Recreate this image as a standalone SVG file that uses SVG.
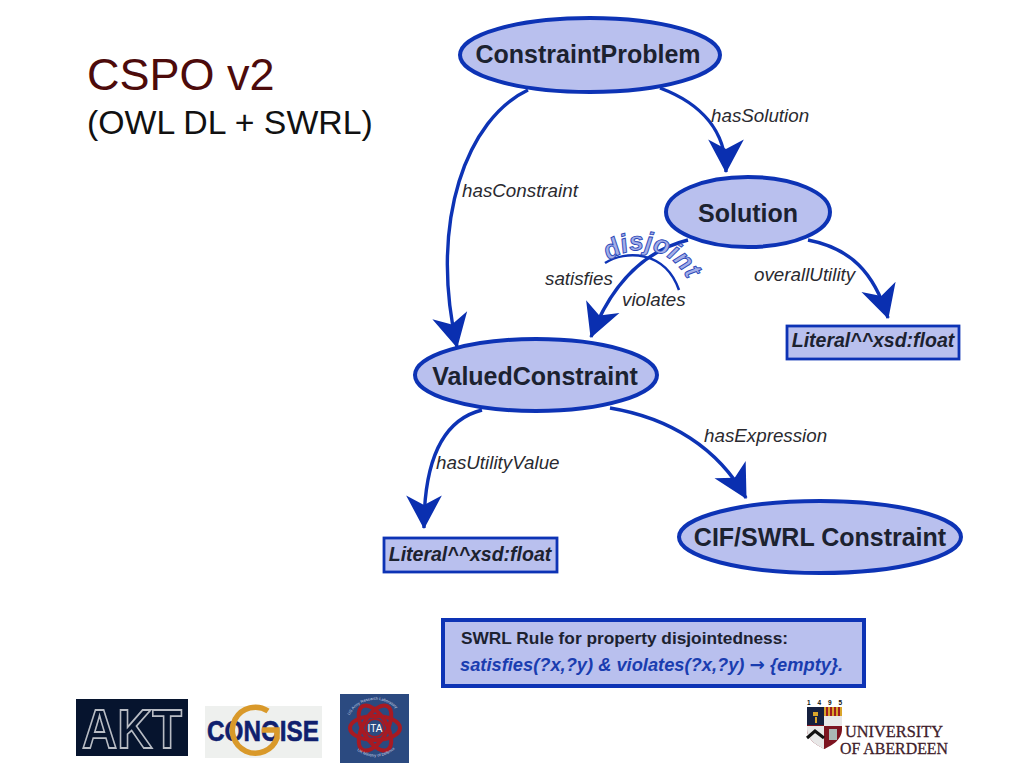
<svg xmlns="http://www.w3.org/2000/svg" width="1024" height="768" viewBox="0 0 1024 768">
<style>
.node{fill:#b9c0ee;stroke:#0d33b5;stroke-width:4}
.box{fill:#b9c0ee;stroke:#0d33b5;stroke-width:2.8}
.nt{font:bold 25px "Liberation Sans",Arial,sans-serif;fill:#1c2230;text-anchor:middle}
.lit{font:italic bold 19.5px "Liberation Sans",Arial,sans-serif;fill:#1c2230;text-anchor:middle}
.el{font:italic 18.8px "Liberation Sans",Arial,sans-serif;fill:#2a2a30}
.edge{fill:none;stroke:#0d33b5;stroke-width:3.4;marker-end:url(#ah)}
.lg{font-family:"Liberation Sans",Arial,sans-serif}
.uni{font-family:"Liberation Serif",serif;font-size:17px;fill:#40202a;stroke:#40202a;stroke-width:.3}
</style>
<defs>
<marker id="ah" markerUnits="userSpaceOnUse" markerWidth="42" markerHeight="42" refX="31" refY="20" orient="auto" viewBox="0 0 40 40">
<path d="M0,3 L32,20 L0,37 L9,20 Z" fill="#0a2fb0"/>
</marker>
<path id="dj" d="M609,261 C632,243 676,243 693,292"/>
<path id="ita1" d="M349,716 A29,29 0 0 1 401,716"/>
<path id="ita2" d="M351,744 A29,29 0 0 0 399,744"/>
</defs>
<rect width="1024" height="768" fill="#fff"/>
<g id="title">
<text x="87" y="90" font-family="Liberation Sans,Arial,sans-serif" font-size="45" fill="#4d0b0b">CSPO v2</text>
<text x="87" y="134" font-family="Liberation Sans,Arial,sans-serif" font-size="33.800" fill="#111">(OWL DL + SWRL)</text>
</g>
<g id="connectors">
<path class="edge" d="M528,90 C468,118 428,220 457,347"/>
<path class="edge" d="M660,88 C700,103 726,130 726,172"/>
<path class="edge" d="M688,240 C640,252 610,288 591,337"/>
<path class="edge" d="M808,240 C850,248 874,272 888,318"/>
<path class="edge" d="M482,410 C442,420 424,460 424,528"/>
<path class="edge" d="M610,408 C670,418 718,448 746,498"/>
<path d="M605,263 C625,250 665,250 679,290" fill="none" stroke="#0d33b5" stroke-width="2.500"/>
</g>
<g id="edge-labels">
<text class="el" x="711" y="122">hasSolution</text>
<text class="el" x="462" y="197">hasConstraint</text>
<text class="el" x="545" y="285">satisfies</text>
<text class="el" x="622" y="306">violates</text>
<text class="el" x="754" y="281">overallUtility</text>
<text class="el" x="436" y="469">hasUtilityValue</text>
<text class="el" x="704" y="442">hasExpression</text>
<text font-family="Liberation Sans,Arial,sans-serif" font-style="italic" font-weight="bold" font-size="26" fill="#a3aee8" stroke="#2c48b8" stroke-width=".9"><textPath href="#dj">disjoint</textPath></text>
</g>
<g id="ConstraintProblem"><ellipse class="node" cx="590" cy="55" rx="130" ry="37"/><text class="nt" x="588" y="63">ConstraintProblem</text></g>
<g id="Solution"><ellipse class="node" cx="748" cy="212" rx="82" ry="35"/><text class="nt" x="748" y="222">Solution</text></g>
<g id="ValuedConstraint"><ellipse class="node" cx="536" cy="375" rx="121" ry="36"/><text class="nt" x="535" y="385">ValuedConstraint</text></g>
<g id="CIFSWRL"><ellipse class="node" cx="820" cy="537" rx="141" ry="36"/><text class="nt" x="820" y="546">CIF/SWRL Constraint</text></g>
<g id="LiteralA"><rect class="box" x="787" y="326" width="172" height="33"/><text class="lit" x="873" y="347">Literal^^xsd:float</text></g>
<g id="LiteralB"><rect class="box" x="384" y="538" width="173" height="34"/><text class="lit" x="470" y="561">Literal^^xsd:float</text></g>
<g id="SWRLRule"><rect class="node" x="443" y="620" width="421" height="66"/>
<text x="461" y="644" font-family="Liberation Sans,Arial,sans-serif" font-weight="bold" font-size="17.300" fill="#1c2230">SWRL Rule for property disjointedness:</text>
<text x="460" y="671" font-family="Liberation Sans,'DejaVu Sans',sans-serif" font-style="italic" font-weight="bold" font-size="18.300" fill="#1a3db0">satisfies(?x,?y) &amp; violates(?x,?y) <tspan font-family="DejaVu Sans,sans-serif" font-style="normal">→</tspan> {empty}.</text></g>
<g id="logo-akt"><rect x="76" y="699" width="112" height="57" fill="#06142e"/>
<text class="lg" x="132" y="748" font-size="56" font-weight="bold" text-anchor="middle" fill="#06142e" stroke="#b8bcc4" stroke-width="1.8" textLength="100" lengthAdjust="spacingAndGlyphs">AKT</text></g>
<g id="logo-conoise"><rect x="205" y="706" width="117" height="52" fill="#eef0ee"/>
<text class="lg" x="263" y="741" font-size="29" font-weight="bold" text-anchor="middle" fill="#10206e" stroke="#10206e" stroke-width=".6" textLength="112" lengthAdjust="spacingAndGlyphs">CONOISE</text>
<path d="M268,711 A23,23 0 1 0 277,738 L277,730 H262" fill="none" stroke="#d9992a" stroke-width="5.500"/></g>
<g id="logo-ita"><rect x="340" y="694" width="69" height="69" fill="#2b4a80"/>
<g fill="none" stroke="#a81a22" stroke-width="4"><ellipse cx="375" cy="728" rx="25" ry="12"/><ellipse cx="375" cy="728" rx="25" ry="12" transform="rotate(60 375 728)"/><ellipse cx="375" cy="728" rx="25" ry="12" transform="rotate(120 375 728)"/></g>
<circle cx="375" cy="728" r="9" fill="#2b4a80" stroke="#a81a22" stroke-width="2"/>
<text class="lg" x="375" y="732" font-size="10" text-anchor="middle" fill="#fff">ITA</text>
<text class="lg" font-size="4" fill="#cfd6e6"><textPath href="#ita1" startOffset="1">US Army Research Laboratory</textPath></text>
<text class="lg" font-size="4" fill="#cfd6e6"><textPath href="#ita2" startOffset="9">UK Ministry of Defence</textPath></text></g>
<g id="logo-aberdeen">
<text x="807" y="705" font-family="Liberation Sans,Arial,sans-serif" font-size="6.500" font-weight="bold" fill="#111" textLength="35">1 4 9 5</text>
<path d="M807,707 H842 V729 C842,741 830,746 824.500,749 C819,746 807,741 807,729 Z" fill="#7d1420"/>
<rect x="807" y="707" width="17" height="18" fill="#16203f"/><path d="M813,712 h5 v4 h-5 z M815,717 h2 v6 h-2 z" fill="#d9a52b"/>
<rect x="824" y="707" width="18" height="9" fill="#d9a52b"/><path d="M827,707 v9 M831,707 v9 M835,707 v9 M839,707 v9" stroke="#a01c20" stroke-width="2"/><rect x="824" y="716" width="18" height="10" fill="#e8e8e8"/>
<path d="M807,726 H824 V749 C819,746 807,741 807,729 Z" fill="#e8e8e8"/><path d="M807,738 L815,731 L824,738" fill="none" stroke="#111" stroke-width="3"/>
<rect x="829" y="729" width="8" height="11" fill="#a9b7b4"/>
<text class="uni" x="845" y="737" textLength="98" lengthAdjust="spacingAndGlyphs">UNIVERSITY</text>
<text class="uni" x="840" y="754" textLength="108" lengthAdjust="spacingAndGlyphs">OF ABERDEEN</text></g>
</svg>
